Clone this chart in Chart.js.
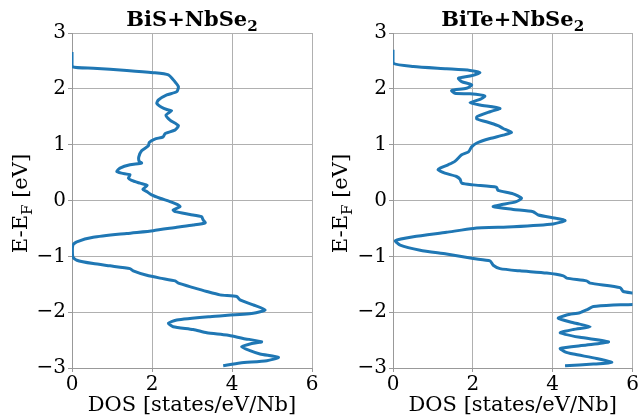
<!DOCTYPE html>
<html>
<head>
<meta charset="utf-8">
<script src="https://cdn.jsdelivr.net/npm/chart.js@4.4.1/dist/chart.umd.min.js"></script>
<style>
    body { margin: 0; background: #fff; width: 640px; height: 415px; overflow: hidden; }
    .pane { position: absolute; top: 0; width: 320px; height: 415px; }
</style>
</head>
<body>
<div class="pane" style="left:0"><canvas id="c1" width="320" height="415"></canvas></div>
<div class="pane" style="left:320px"><canvas id="c2" width="320" height="415"></canvas></div>
<script>
// tick labels
const yTicks = [-3, -2, -1, 0, 1, 2, 3];
const xTicks = [0, 2, 4, 6];

// BiS+NbSe2 : energy (eV) and DOS (states/eV/Nb)
const bisEnergy = [
    2.66, 2.40, 2.37, 2.33, 2.29, 2.25, 2.13, 2.04, 1.95, 1.89,
    1.80, 1.74, 1.67, 1.63, 1.61, 1.53, 1.44, 1.34, 1.26, 1.20,
    1.14, 1.10, 1.04, 0.98, 0.89, 0.78, 0.70, 0.67, 0.64, 0.58,
    0.52, 0.49, 0.46, 0.40, 0.36, 0.31, 0.27, 0.20, 0.16, 0.10,
    0.04, -0.02, -0.08, -0.11, -0.17, -0.20, -0.25, -0.29, -0.35, -0.40,
    -0.44, -0.48, -0.54, -0.59, -0.66, -0.74, -0.80, -1.01, -1.07, -1.13,
    -1.17, -1.22, -1.26, -1.34, -1.39, -1.44, -1.48, -1.56, -1.63, -1.69,
    -1.72, -1.78, -1.87, -1.96, -2.02, -2.08, -2.14, -2.20, -2.26, -2.31,
    -2.37, -2.41, -2.47, -2.53, -2.57, -2.62, -2.69, -2.75, -2.81, -2.87,
    -2.91, -2.96
];
const bisDos = [
    0, 0, 0.53, 1.37, 2.03, 2.41, 2.57, 2.66, 2.62, 2.37,
    2.16, 2.12, 2.24, 2.37, 2.49, 2.35, 2.45, 2.66, 2.57, 2.33,
    2.28, 2.07, 1.93, 1.91, 1.74, 1.67, 1.68, 1.74, 1.45, 1.20,
    1.12, 1.24, 1.45, 1.41, 1.49, 1.70, 1.88, 1.77, 1.87, 1.99,
    2.20, 2.45, 2.66, 2.70, 2.53, 2.58, 2.95, 3.24, 3.28, 3.33,
    3.03, 2.62, 2.03, 1.37, 0.53, 0.12, 0.02, 0.02, 0.12, 0.53,
    0.95, 1.45, 1.53, 1.87, 2.20, 2.58, 2.66, 3.03, 3.37, 3.70,
    4.12, 4.20, 4.53, 4.83, 4.53, 3.45, 2.62, 2.41, 2.53, 3.03,
    3.37, 3.87, 4.28, 4.74, 4.45, 4.24, 4.45, 4.70, 5.16, 4.87,
    4.20, 3.78
];

// BiTe+NbSe2
const biteEnergy = [
    2.70, 2.46, 2.40, 2.36, 2.33, 2.29, 2.23, 2.19, 2.13, 2.07,
    2.01, 1.97, 1.92, 1.91, 1.87, 1.81, 1.75, 1.71, 1.65, 1.59,
    1.50, 1.46, 1.41, 1.34, 1.29, 1.22, 1.17, 1.11, 1.03, 0.96,
    0.87, 0.82, 0.70, 0.64, 0.58, 0.55, 0.49, 0.43, 0.38, 0.31,
    0.28, 0.24, 0.18, 0.12, 0.04, -0.02, -0.08, -0.11, -0.16, -0.20,
    -0.26, -0.32, -0.36, -0.42, -0.47, -0.50, -0.57, -0.65, -0.72, -0.80,
    -0.89, -0.96, -1.04, -1.08, -1.16, -1.22, -1.26, -1.30, -1.35, -1.39,
    -1.44, -1.48, -1.56, -1.63, -1.66, -1.75, -1.86, -1.87, -1.90, -1.96,
    -2.01, -2.05, -2.11, -2.19, -2.26, -2.31, -2.37, -2.45, -2.53, -2.59,
    -2.65, -2.71, -2.75, -2.83, -2.90, -2.93, -2.96
];
const biteDos = [
    0, 0, 0.51, 1.34, 1.93, 2.18, 1.93, 1.64, 1.72, 1.97,
    1.84, 1.47, 1.55, 1.93, 2.30, 2.18, 1.93, 2.18, 2.68, 2.43,
    2.10, 2.10, 2.34, 2.63, 2.76, 2.97, 2.76, 2.43, 2.10, 1.97,
    1.89, 1.72, 1.55, 1.38, 1.18, 1.13, 1.30, 1.59, 1.68, 1.72,
    2.01, 2.59, 2.63, 3.01, 3.22, 3.09, 2.68, 2.51, 3.01, 3.51,
    3.64, 4.10, 4.31, 4.01, 3.01, 2.01, 1.34, 0.51, 0.06, 0.18,
    0.68, 1.34, 2.01, 2.43, 2.51, 2.68, 3.18, 3.85, 4.27, 4.35,
    4.85, 4.94, 5.69, 5.77, 6.05, 6.60, 6.05, 5.52, 5.02, 4.85,
    4.68, 4.35, 4.14, 4.52, 4.94, 4.52, 4.19, 4.68, 5.40, 4.85,
    4.19, 4.31, 4.52, 5.10, 5.48, 5.02, 4.31
];

const FONT = "'DejaVu Serif', serif";
const GRID = '#b0b0b0';
const SPINE = '#999999';
const BLUE = '#1f77b4';

// draws text made of normal and subscript parts, centred on (x, y) baseline
function drawRich(ctx, parts, x, y, size, weight) {
    let w = 0;
    parts.forEach(p => {
        ctx.font = weight + ' ' + (p.sub ? size * 0.72 : size) + 'px ' + FONT;
        w += ctx.measureText(p.t).width;
    });
    let cx = x - w / 2;
    parts.forEach(p => {
        ctx.font = weight + ' ' + (p.sub ? size * 0.72 : size) + 'px ' + FONT;
        ctx.fillText(p.t, cx, p.sub ? y + size * 0.22 : y);
        cx += ctx.measureText(p.t).width;
    });
}

const labelsPlugin = {
    id: 'labels',
    afterDraw(chart, args, opts) {
        const ctx = chart.ctx;
        const a = chart.chartArea;
        const mid = (a.left + a.right) / 2;
        ctx.save();
        ctx.fillStyle = '#000';
        ctx.textBaseline = 'alphabetic';
        drawRich(ctx, opts.title, mid, 26, 21, 'bold');
        drawRich(ctx, [{ t: 'DOS [states/eV/Nb]' }], mid, 411, 21, 'normal');
        ctx.translate(27, (a.top + a.bottom) / 2 + 3);
        ctx.rotate(-Math.PI / 2);
        drawRich(ctx, [{ t: 'E-E' }, { t: 'F', sub: true }, { t: ' [eV]' }], 0, 0, 21, 'normal');
        ctx.restore();
    }
};

function makeChart(id, energy, dos, title, leftWidth, rightPad) {
    const points = energy.map((e, i) => ({ x: dos[i], y: e }));
    return new Chart(document.getElementById(id), {
        type: 'scatter',
        data: {
            datasets: [{
                data: points,
                showLine: true,
                borderColor: BLUE,
                borderWidth: 3,
                pointRadius: 0,
                tension: 0.2,
                clip: 0
            }]
        },
        options: {
            responsive: false,
            animation: false,
            layout: { padding: { top: 33, right: rightPad, left: 0, bottom: 0 } },
            plugins: {
                legend: { display: false },
                tooltip: { enabled: false },
                labels: { title: title }
            },
            scales: {
                x: {
                    type: 'linear',
                    min: 0, max: 6,
                    afterBuildTicks: s => { s.ticks = xTicks.map(v => ({ value: v })); },
                    afterFit: s => { s.height = 47; },
                    ticks: { font: { family: FONT, size: 20 }, color: '#000', padding: 1, maxRotation: 0 },
                    grid: { color: GRID, lineWidth: 1, tickLength: 4, tickColor: SPINE },
                    border: { color: SPINE }
                },
                y: {
                    type: 'linear',
                    min: -3, max: 3,
                    afterBuildTicks: s => { s.ticks = yTicks.map(v => ({ value: v })); },
                    afterFit: s => { s.width = leftWidth; },
                    ticks: {
                        font: { family: FONT, size: 20 }, color: '#000', padding: 2,
                        callback: v => String(v).replace('-', '\u2212')
                    },
                    grid: { color: GRID, lineWidth: 1, tickLength: 4, tickColor: SPINE },
                    border: { color: SPINE }
                }
            }
        },
        plugins: [labelsPlugin]
    });
}

makeChart('c1', bisEnergy, bisDos, [{ t: 'BiS+NbSe' }, { t: '2', sub: true }], 72, 8);
makeChart('c2', biteEnergy, biteDos, [{ t: 'BiTe+NbSe' }, { t: '2', sub: true }], 73, 7.5);
</script>
</body>
</html>
